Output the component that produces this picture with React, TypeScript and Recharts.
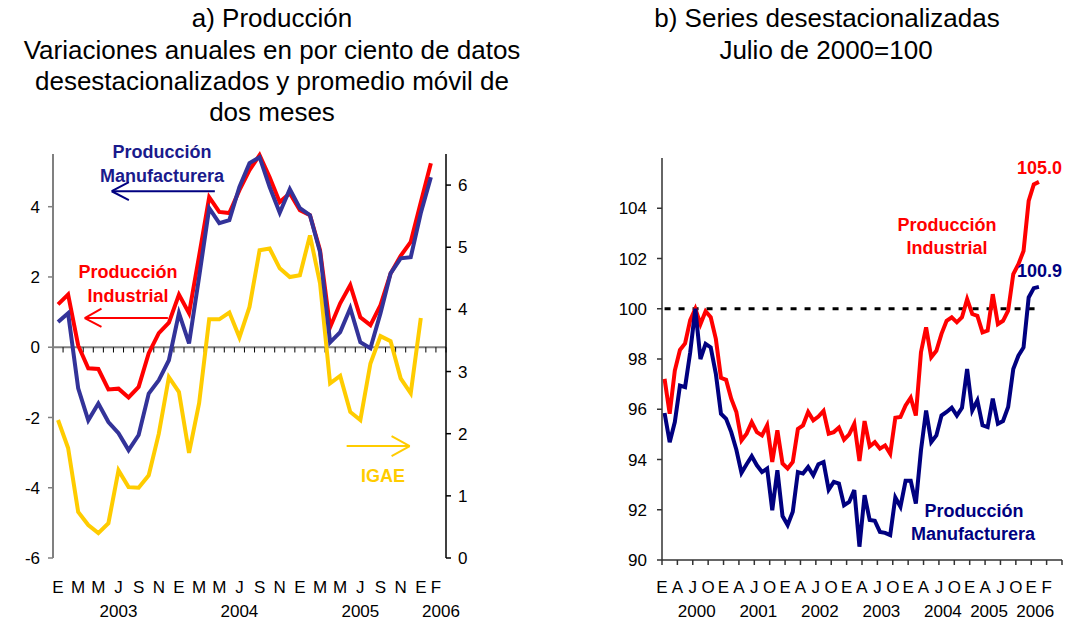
import React from "react";
import { LineChart, Line, XAxis, YAxis, ReferenceLine } from "recharts";

// Panel a: Jan 2003 - Feb 2006, annual % change (2-month moving average)
const leftInd = [1.22, 1.5, 0.05, -0.6, -0.62, -1.2, -1.18, -1.43, -1.13, -0.17, 0.4, 0.7, 1.5, 0.97, 2.6, 4.27, 3.85, 3.82, 4.47, 5.04, 5.47, 4.84, 4.13, 4.38, 3.9, 3.76, 2.76, 0.57, 1.25, 1.77, 0.85, 0.63, 1.2, 2.1, 2.6, 3.0, 4.13, 5.24];
const leftMan = [0.72, 0.97, -1.17, -2.08, -1.6, -2.13, -2.45, -2.93, -2.5, -1.32, -0.94, -0.37, 0.97, 0.11, 2.0, 3.96, 3.53, 3.62, 4.56, 5.24, 5.41, 4.56, 3.83, 4.5, 3.96, 3.76, 2.71, 0.14, 0.43, 1.11, 0.14, -0.03, 0.97, 2.1, 2.53, 2.56, 3.82, 4.84];
const leftIgae = [2.22, 1.77, 0.74, 0.53, 0.4, 0.56, 1.41, 1.14, 1.13, 1.33, 2.0, 2.91, 2.67, 1.69, 2.49, 3.84, 3.84, 3.95, 3.55, 4.04, 4.95, 4.98, 4.66, 4.52, 4.55, 5.19, 4.42, 2.81, 2.93, 2.35, 2.22, 3.13, 3.57, 3.49, 2.89, 2.65, 3.86, null];

// Panel b: Jan 2000 - Feb 2006, index Jul 2000 = 100
const rightInd = [97.21, 95.82, 97.54, 98.36, 98.62, 99.55, 100.0, 99.39, 99.9, 99.66, 98.8, 97.25, 97.17, 96.42, 95.89, 94.76, 95.03, 95.49, 95.09, 94.96, 95.36, 93.9, 95.16, 93.84, 93.64, 93.9, 95.22, 95.36, 95.89, 95.56, 95.71, 95.93, 95.03, 95.09, 95.27, 94.79, 95.0, 95.42, 93.94, 95.53, 94.52, 94.69, 94.43, 94.56, 94.23, 95.66, 95.69, 96.15, 96.46, 95.75, 98.27, 99.26, 98.07, 98.33, 99.0, 99.52, 99.66, 99.46, 99.66, 100.38, 99.79, 99.72, 99.06, 99.13, 100.58, 99.39, 99.52, 99.92, 101.38, 101.77, 102.3, 104.29, 104.95, 105.05];
const rightMan = [95.85, 94.69, 95.49, 96.94, 96.88, 98.27, 100.0, 98.0, 98.6, 98.46, 97.41, 95.82, 95.62, 95.09, 94.39, 93.47, 93.81, 94.13, 93.77, 93.5, 93.64, 91.98, 93.57, 91.75, 91.39, 91.92, 93.5, 93.44, 93.7, 93.37, 93.81, 93.9, 92.8, 93.11, 93.04, 92.18, 92.31, 92.78, 90.53, 92.58, 91.59, 91.56, 91.12, 91.08, 90.99, 92.49, 92.12, 93.15, 93.15, 92.25, 94.37, 95.95, 94.69, 94.96, 95.75, 95.89, 96.06, 95.75, 96.06, 97.6, 95.95, 96.35, 95.36, 95.29, 96.42, 95.42, 95.53, 96.09, 97.6, 98.13, 98.46, 100.45, 100.82, 100.87];

const MESES = ["E", "F", "M", "A", "M", "J", "J", "A", "S", "O", "N", "D"];

const leftLabelTicks = [0, 2, 4, 6, 8, 10, 12, 14, 16, 18, 20, 22, 24, 26, 28, 30, 32, 34, 36, 37, 38];
const leftYearTicks = [6, 18, 30, 38];
const leftYears = ["2003", "2004", "2005", "2006"];
const leftTicksL = [-6, -4, -2, 0, 2, 4];
const leftTicksR = [0, 1, 2, 3, 4, 5, 6];

// right panel: quarter boundaries carry the tick marks and the labels
const rightBounds = Array.from({ length: 27 }, (_, k) => k * 3 - 0.5);
const rightTickLabels = ["E", "A", "J", "O", "E", "A", "J", "O", "E", "A", "J", "O", "E", "A", "J", "O", "E", "A", "J", "O", "E", "A", "J", "O", "E", "F", ""];
const rightYearIdx = [2, 6, 10, 14, 18, 21, 24];
const rightYears = ["2000", "2001", "2002", "2003", "2004", "2005", "2006"];
const rightTicksY = [90, 92, 94, 96, 98, 100, 102, 104];

const leftData = leftInd.map((v, i) => ({ i, ind: v, man: leftMan[i], igae: leftIgae[i] }));
const rightData = rightInd.map((v, i) => ({ i, ind: v, man: rightMan[i] }));

// month boundaries for the small tick marks on the zero line
const leftBounds = Array.from({ length: 40 }, (_, k) => k - 0.5);

const FONT = "'Liberation Sans', Arial, sans-serif";

function LeftTick(props: any) {
  const { x, y, payload } = props;
  const v = payload.value;
  const letter = v <= 37 ? MESES[v % 12] : "";
  const yi = leftYearTicks.indexOf(v);
  return (
    <g>
      <text x={x + (v === 37 ? 5 : 0)} y={y + 35} textAnchor="middle" fontSize={17} fill="#000">
        {letter}
      </text>
      {yi >= 0 && (
        <text x={x} y={y + 59} textAnchor="middle" fontSize={17} fill="#000">
          {leftYears[yi]}
        </text>
      )}
    </g>
  );
}

function RightTick(props: any) {
  const { x, y, index } = props;
  const yi = rightYearIdx.indexOf(index);
  return (
    <g>
      <text x={x} y={y + 28} textAnchor="middle" fontSize={17} fill="#000">
        {rightTickLabels[index]}
      </text>
      {yi >= 0 && (
        <text x={x + 4} y={y + 52} textAnchor="middle" fontSize={17} fill="#000">
          {rightYears[yi]}
        </text>
      )}
    </g>
  );
}

export default function App() {
  const red = "#FF0000";
  const blueL = "#333399";
  const navy = "#000080";
  const yellow = "#FFCC00";

  return (
    <div style={{ position: "relative", width: 1070, height: 622, fontFamily: FONT, background: "#fff" }}>
      <style>{"body{margin:0}"}</style>

      <div style={{ position: "absolute", left: 0, top: 0 }}>
        <LineChart width={520} height={622} data={leftData} margin={{ top: 154, right: 14, bottom: 0, left: 0 }}>
          <XAxis
            dataKey="i"
            type="number"
            domain={[-0.5, 38.5]}
            ticks={leftLabelTicks}
            interval={0}
            axisLine={false}
            tickLine={false}
            tickSize={0}
            tickMargin={0}
            height={64}
            tick={LeftTick}
          />
          <YAxis
            yAxisId="left"
            domain={[-6, 5.5]}
            ticks={leftTicksL}
            interval={0}
            width={53}
            axisLine={{ stroke: "#808080", strokeWidth: 2 }}
            tickLine={{ stroke: "#808080", strokeWidth: 1.5 }}
            tickSize={5}
            tickMargin={8}
            tick={{ fill: "#000", fontSize: 17 }}
          />
          <YAxis
            yAxisId="right"
            orientation="right"
            domain={[0, 6.5]}
            ticks={leftTicksR}
            interval={0}
            width={60}
            axisLine={{ stroke: "#000", strokeWidth: 1.5 }}
            tickLine={{ stroke: "#000", strokeWidth: 1.5 }}
            tickSize={5}
            tickMargin={7}
            tick={{ fill: "#000", fontSize: 17 }}
          />
          <ReferenceLine yAxisId="left" y={0} stroke="#808080" strokeWidth={2} />
          {leftBounds.map((b) => (
            <ReferenceLine
              key={"lt" + b}
              yAxisId="left"
              segment={[{ x: b, y: 0 }, { x: b, y: -0.15 }]}
              stroke="#000"
              strokeWidth={1}
            />
          ))}
          {/* arrows */}
          <ReferenceLine yAxisId="left" segment={[{ x: 15.56, y: 4.44 }, { x: 5.33, y: 4.44 }]} stroke={navy} strokeWidth={2} />
          <ReferenceLine yAxisId="left" segment={[{ x: 5.33, y: 4.44 }, { x: 7.03, y: 4.7 }]} stroke={navy} strokeWidth={2} />
          <ReferenceLine yAxisId="left" segment={[{ x: 5.33, y: 4.44 }, { x: 7.03, y: 4.19 }]} stroke={navy} strokeWidth={2} />
          <ReferenceLine yAxisId="left" segment={[{ x: 10.9, y: 0.83 }, { x: 2.65, y: 0.83 }]} stroke={red} strokeWidth={2} />
          <ReferenceLine yAxisId="left" segment={[{ x: 2.65, y: 0.83 }, { x: 4.31, y: 1.1 }]} stroke={red} strokeWidth={2} />
          <ReferenceLine yAxisId="left" segment={[{ x: 2.65, y: 0.83 }, { x: 4.31, y: 0.58 }]} stroke={red} strokeWidth={2} />
          <ReferenceLine yAxisId="right" segment={[{ x: 28.64, y: 1.8 }, { x: 34.9, y: 1.8 }]} stroke={yellow} strokeWidth={2} />
          <ReferenceLine yAxisId="right" segment={[{ x: 34.9, y: 1.8 }, { x: 33.1, y: 1.96 }]} stroke={yellow} strokeWidth={2} />
          <ReferenceLine yAxisId="right" segment={[{ x: 34.9, y: 1.8 }, { x: 33.1, y: 1.64 }]} stroke={yellow} strokeWidth={2} />

          <Line yAxisId="right" dataKey="igae" stroke={yellow} strokeWidth={4} dot={false} isAnimationActive={false} />
          <Line yAxisId="left" dataKey="ind" stroke={red} strokeWidth={4} dot={false} isAnimationActive={false} />
          <Line yAxisId="left" dataKey="man" stroke={blueL} strokeWidth={4} dot={false} isAnimationActive={false} />
        </LineChart>
      </div>

      <div style={{ position: "absolute", left: 560, top: 0 }}>
        <LineChart width={510} height={622} data={rightData} margin={{ top: 158, right: 8, bottom: 0, left: 0 }}>
          <XAxis
            dataKey="i"
            type="number"
            domain={[-0.5, 77.5]}
            ticks={rightBounds}
            interval={0}
            axisLine={{ stroke: "#333", strokeWidth: 1.5 }}
            tickLine={{ stroke: "#333", strokeWidth: 1.5 }}
            tickSize={5}
            tickMargin={0}
            height={62}
            tick={RightTick}
          />
          <YAxis
            domain={[90, 106]}
            ticks={rightTicksY}
            interval={0}
            width={102}
            axisLine={{ stroke: "#333", strokeWidth: 1.5 }}
            tickLine={{ stroke: "#333", strokeWidth: 1.5 }}
            tickSize={5}
            tickMargin={10}
            tick={{ fill: "#000", fontSize: 17 }}
          />
          <ReferenceLine
            segment={[{ x: 0, y: 100 }, { x: 73, y: 100 }]}
            stroke="#000"
            strokeWidth={3}
            strokeDasharray="6 8"
          />
          <Line dataKey="ind" stroke={red} strokeWidth={4} dot={false} isAnimationActive={false} />
          <Line dataKey="man" stroke={navy} strokeWidth={4} dot={false} isAnimationActive={false} />
        </LineChart>
      </div>

      <svg width={1070} height={622} style={{ position: "absolute", left: 0, top: 0, pointerEvents: "none" }}>
        <g fontSize={26} fill="#000" textAnchor="middle">
          <text x={272} y={27}>a) Producción</text>
          <text x={272} y={59}>Variaciones anuales en por ciento de datos</text>
          <text x={272} y={90}>desestacionalizados y promedio móvil de</text>
          <text x={272} y={121}>dos meses</text>
          <text x={827} y={27}>b) Series desestacionalizadas</text>
          <text x={826} y={59}>Julio de 2000=100</text>
        </g>
        <g fontSize={18} fontWeight="bold" textAnchor="middle">
          <text x={162} y={158} fill="#1a1a8c">Producción</text>
          <text x={162} y={182} fill="#1a1a8c">Manufacturera</text>
          <text x={128} y={278} fill={red}>Producción</text>
          <text x={128} y={302} fill={red}>Industrial</text>
          <text x={383} y={482} fill={yellow}>IGAE</text>
          <text x={947} y={231} fill={red}>Producción</text>
          <text x={947} y={254} fill={red}>Industrial</text>
          <text x={974} y={517} fill={navy}>Producción</text>
          <text x={973} y={540} fill={navy}>Manufacturera</text>
          <text x={1017} y={174} fill={red} textAnchor="start">105.0</text>
          <text x={1017} y={277} fill={navy} textAnchor="start">100.9</text>
        </g>
      </svg>
    </div>
  );
}
